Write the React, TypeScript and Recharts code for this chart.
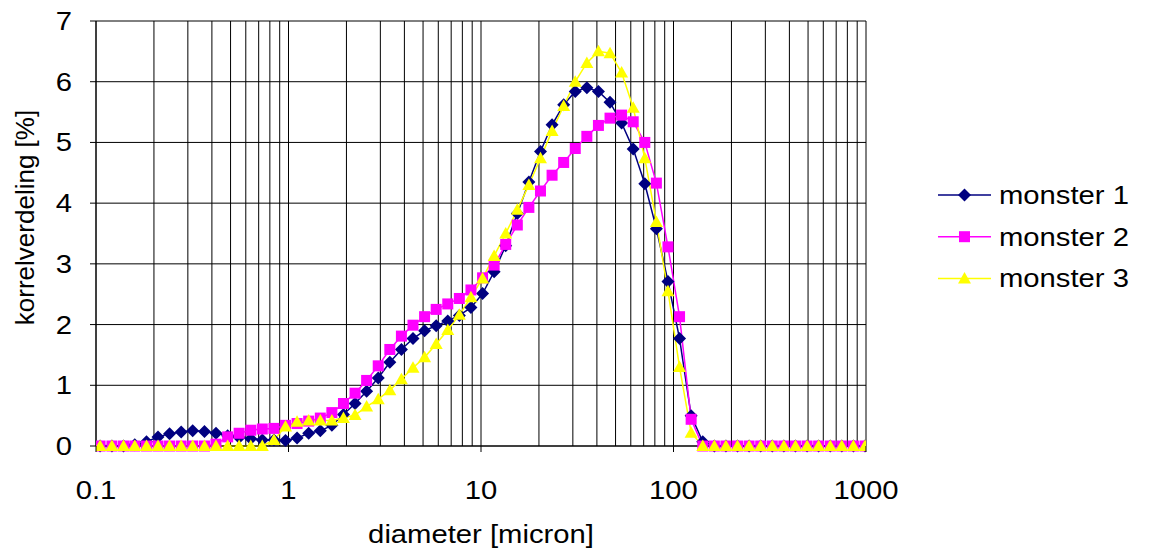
import { CartesianGrid, Legend, Line, LineChart, XAxis, YAxis } from 'recharts';

// particle diameters in micron (log spaced bins)
const diameters = [
  0.105, 0.121, 0.139, 0.159, 0.183, 0.21, 0.241, 0.277, 0.318, 0.366,
  0.42, 0.483, 0.554, 0.637, 0.731, 0.84, 0.965, 1.108, 1.273, 1.463,
  1.68, 1.93, 2.217, 2.546, 2.925, 3.36, 3.86, 4.434, 5.093, 5.85,
  6.72, 7.719, 8.867, 10.19, 11.7, 13.44, 15.44, 17.73, 20.37, 23.4,
  26.88, 30.88, 35.47, 40.74, 46.8, 53.76, 61.76, 70.94, 81.49, 93.6,
  107.5, 123.5, 141.9, 163, 187.2, 215, 247, 283.8, 325.9, 374.4,
  430.1, 494, 567.5, 651.9, 748.8, 860.2, 988.1,
];

const monster1 = [
  0, 0, 0, 0.02, 0.07, 0.15, 0.2, 0.23, 0.25, 0.24,
  0.21, 0.17, 0.14, 0.12, 0.1, 0.1, 0.09, 0.13, 0.21, 0.25,
  0.34, 0.52, 0.7, 0.9, 1.12, 1.38, 1.59, 1.77, 1.9, 1.98,
  2.06, 2.15, 2.28, 2.51, 2.87, 3.3, 3.83, 4.35, 4.85, 5.29,
  5.62, 5.84, 5.9, 5.84, 5.66, 5.32, 4.89, 4.32, 3.58, 2.71,
  1.77, 0.5, 0.07, 0, 0, 0, 0, 0, 0, 0,
  0, 0, 0, 0, 0, 0, 0,
];

const monster2 = [
  0, 0, 0, 0, 0, 0, 0, 0, 0, 0,
  0.03, 0.15, 0.21, 0.26, 0.28, 0.29, 0.34, 0.37, 0.41, 0.46,
  0.55, 0.7, 0.87, 1.08, 1.32, 1.59, 1.81, 1.99, 2.13, 2.25,
  2.34, 2.43, 2.57, 2.77, 2.98, 3.32, 3.64, 3.93, 4.2, 4.46,
  4.67, 4.9, 5.1, 5.28, 5.4, 5.45, 5.34, 5.0, 4.33, 3.28,
  2.13, 0.44, 0, 0, 0, 0, 0, 0, 0, 0,
  0, 0, 0, 0, 0, 0, 0,
];

const monster3 = [
  0, 0, 0, 0, 0, 0, 0, 0, 0, 0,
  0, 0, 0, 0, 0, 0.1, 0.32, 0.4, 0.42, 0.42,
  0.42, 0.46, 0.51, 0.65, 0.77, 0.92, 1.1, 1.29, 1.46, 1.68,
  1.91, 2.16, 2.45, 2.76, 3.13, 3.5, 3.89, 4.3, 4.74, 5.19,
  5.6, 6.0, 6.31, 6.5, 6.47, 6.15, 5.57, 4.74, 3.69, 2.55,
  1.3, 0.22, 0, 0, 0, 0, 0, 0, 0, 0,
  0, 0, 0, 0, 0, 0, 0,
];

const seriesNames = ['monster 1', 'monster 2', 'monster 3'];
const xMajorTicks = [0.1, 1, 10, 100, 1000];
const xGridTicks = [
  0.1, 0.2, 0.3, 0.4, 0.5, 0.6, 0.7, 0.8, 0.9,
  1, 2, 3, 4, 5, 6, 7, 8, 9,
  10, 20, 30, 40, 50, 60, 70, 80, 90,
  100, 200, 300, 400, 500, 600, 700, 800, 900,
  1000,
];
const yTicks = [0, 1, 2, 3, 4, 5, 6, 7];

const NAVY = '#000080';
const MAGENTA = '#FF00FF';
const YELLOW = '#FFFF00';
const FONT = '"Liberation Sans", Arial, sans-serif';

const data = diameters.map((d, i) => ({
  d,
  m1: monster1[i],
  m2: monster2[i],
  m3: monster3[i],
}));

function WideText({ x, y, anchor = 'start', children }: any) {
  return (
    <text
      transform={`translate(${x} ${y}) scale(1.17 1)`}
      textAnchor={anchor}
      fontFamily={FONT}
      fontSize={25}
      fill="#000"
    >
      {children}
    </text>
  );
}

function Marker({ shape, cx, cy }: { shape: string; cx: number; cy: number }) {
  if (shape === 'diamond') {
    return (
      <polygon
        points={`${cx},${cy - 6.5} ${cx + 6.5},${cy} ${cx},${cy + 6.5} ${cx - 6.5},${cy}`}
        fill={NAVY}
      />
    );
  }
  if (shape === 'square') {
    return <rect x={cx - 5.5} y={cy - 5.5} width={11} height={11} fill={MAGENTA} />;
  }
  return (
    <polygon
      points={`${cx},${cy - 6.5} ${cx + 6.5},${cy + 5} ${cx - 6.5},${cy + 5}`}
      fill={YELLOW}
    />
  );
}

function dotFor(shape: string) {
  return (p: any) => {
    if (p.cx == null || p.cy == null) return <g key={`${shape}-${p.index}`} />;
    return (
      <g key={`${shape}-${p.index}`}>
        <Marker shape={shape} cx={p.cx} cy={p.cy} />
      </g>
    );
  };
}

function XTick({ x, y, payload }: any) {
  const v = payload.value;
  if (!xMajorTicks.includes(v)) return <g />;
  return (
    <g>
      <line x1={x} x2={x} y1={y} y2={y + 6} stroke="#000" />
      <WideText x={x} y={y + 53} anchor="middle">
        {String(v)}
      </WideText>
    </g>
  );
}

function YTick({ x, y, payload }: any) {
  return (
    <g>
      <line x1={x - 6} x2={x} y1={y} y2={y} stroke="#000" />
      <WideText x={x - 24} y={y + 9} anchor="end">
        {String(payload.value)}
      </WideText>
    </g>
  );
}

function YLabel({ viewBox }: any) {
  const cx = viewBox.x + 25;
  const cy = viewBox.y + viewBox.height / 2 - 16;
  return (
    <text
      transform={`translate(${cx} ${cy}) rotate(-90)`}
      textAnchor="middle"
      dominantBaseline="central"
      fontFamily={FONT}
      fontSize={26}
      fill="#000"
    >
      korrelverdeling [%]
    </text>
  );
}

function XLabel({ viewBox }: any) {
  const cx = viewBox.x + viewBox.width / 2;
  return (
    <WideText x={cx} y={viewBox.y + 97} anchor="middle">
      diameter [micron]
    </WideText>
  );
}

const legendRows = [
  { name: seriesNames[0], color: NAVY, shape: 'diamond' },
  { name: seriesNames[1], color: MAGENTA, shape: 'square' },
  { name: seriesNames[2], color: YELLOW, shape: 'triangle' },
];

function LegendBox() {
  return (
    <svg width={215} height={130}>
      {legendRows.map((r, i) => {
        const cy = 20 + i * 41.7;
        return (
          <g key={r.name}>
            <line x1={8} x2={61} y1={cy} y2={cy} stroke={r.color} strokeWidth={1.5} />
            <Marker shape={r.shape} cx={34.5} cy={cy} />
            <WideText x={69} y={cy + 9}>
              {r.name}
            </WideText>
          </g>
        );
      })}
    </svg>
  );
}

export default function App() {
  return (
    <div style={{ position: 'absolute', left: 0, top: 0, background: '#fff' }}>
      <LineChart
        width={1149}
        height={550}
        data={data}
        margin={{ top: 21, right: 283, bottom: 0, left: 0 }}
      >
        <CartesianGrid stroke="#000" strokeWidth={1} />
        <XAxis
          dataKey="d"
          type="number"
          scale="log"
          domain={[0.1, 1000]}
          allowDataOverflow
          ticks={xGridTicks}
          interval={0}
          tickSize={0}
          tickMargin={0}
          tickLine={false}
          axisLine={{ stroke: '#000' }}
          tick={<XTick />}
          height={104}
          label={<XLabel />}
        />
        <YAxis
          type="number"
          domain={[0, 7]}
          ticks={yTicks}
          interval={0}
          tickSize={0}
          tickMargin={0}
          tickLine={false}
          axisLine={{ stroke: '#000' }}
          tick={<YTick />}
          width={96}
          label={<YLabel />}
        />
        <Legend
          layout="vertical"
          align="center"
          verticalAlign="middle"
          wrapperStyle={{ left: 930, top: 175, width: 215, height: 130 }}
          content={() => <LegendBox />}
        />
        <Line
          dataKey="m1"
          name={seriesNames[0]}
          stroke={NAVY}
          strokeWidth={1.5}
          dot={dotFor('diamond')}
          activeDot={false}
          isAnimationActive={false}
        />
        <Line
          dataKey="m2"
          name={seriesNames[1]}
          stroke={MAGENTA}
          strokeWidth={1.5}
          dot={dotFor('square')}
          activeDot={false}
          isAnimationActive={false}
        />
        <Line
          dataKey="m3"
          name={seriesNames[2]}
          stroke={YELLOW}
          strokeWidth={1.5}
          dot={dotFor('triangle')}
          activeDot={false}
          isAnimationActive={false}
        />
      </LineChart>
    </div>
  );
}
